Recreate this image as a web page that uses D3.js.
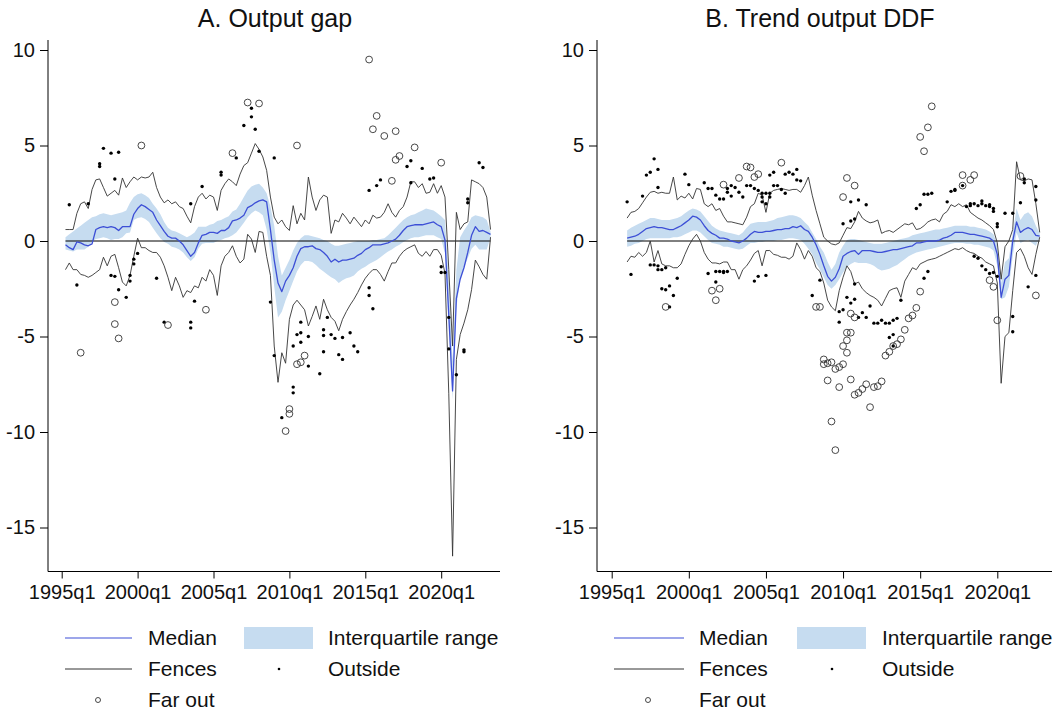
<!DOCTYPE html>
<html>
<head>
<meta charset="utf-8">
<script src="https://cdn.jsdelivr.net/npm/d3@7"></script>
<style>
  body { margin: 0; background: #fff; }
  svg { display: block; font-family: "Liberation Sans", Arial, Helvetica, sans-serif; }
</style>
</head>
<body>
<svg id="chart" width="1057" height="713"></svg>
<script>
// ---------------- Panel A: output gap (quarterly, from 1995q2) ----------------
const gapStart = "1995q2";
const gapMedian = [
  -0.2,-0.35,-0.45,-0.05,-0.1,-0.2,-0.25,-0.15,0.6,0.7,
  0.75,0.7,0.75,0.7,0.55,0.75,0.75,0.75,1.4,1.7,
  1.9,1.8,1.65,1.5,1.1,0.8,0.5,0.25,0.15,0.15,
  0.0,-0.2,-0.5,-0.8,-0.6,-0.1,0.3,0.35,0.45,0.45,
  0.4,0.55,0.55,0.7,1.05,1.1,1.2,1.35,1.75,1.85,
  2.0,2.1,2.15,2.05,0.6,-1.0,-2.2,-2.65,-2.1,-1.8,
  -1.4,-0.8,-0.4,-0.3,-0.3,-0.25,-0.4,-0.45,-0.6,-0.8,
  -1.1,-0.95,-1.1,-1.0,-1.0,-0.95,-0.9,-0.75,-0.65,-0.45,
  -0.35,-0.2,-0.2,-0.2,-0.15,-0.1,0.0,0.1,0.3,0.55,
  0.75,0.8,0.85,0.85,0.85,0.9,0.95,1.0,0.85,0.75,
  0.05,-3.9,-7.85,-3.0,-2.0,-1.4,-0.6,0.3,0.75,0.5,
  0.55,0.45,0.35
];
const gapIqrLow = [
  -0.45,-0.5,-0.55,-0.45,-0.45,-0.45,-0.3,-0.05,0.1,0.15,
  0.2,0.15,0.05,0.1,0.1,0.2,0.4,0.45,1.1,1.2,
  1.25,1.15,1.0,0.7,0.4,0.15,-0.05,-0.15,-0.3,-0.35,
  -0.45,-0.6,-0.85,-1.05,-0.85,-0.4,-0.15,-0.1,-0.1,-0.1,
  0.0,0.05,0.15,0.2,0.3,0.45,0.7,0.95,1.25,1.45,
  1.6,1.5,1.35,0.6,-0.6,-2.4,-4.0,-3.7,-3.1,-2.6,
  -2.1,-1.6,-1.25,-1.05,-1.05,-1.1,-1.25,-1.45,-1.6,-1.75,
  -1.9,-2.0,-2.2,-2.05,-1.95,-1.9,-1.8,-1.6,-1.45,-1.35,
  -1.2,-1.1,-1.0,-0.85,-0.7,-0.55,-0.45,-0.3,-0.2,-0.05,
  0.05,0.15,0.2,0.2,0.25,0.3,0.3,0.3,0.2,0.1,
  -0.65,-4.5,-8.3,-3.5,-2.0,-1.4,-0.9,-0.4,-0.2,-0.45,
  -0.45,-0.45,0.2
];
const gapIqrHigh = [
  0.2,0.35,0.5,0.65,0.8,0.95,1.1,1.25,1.3,1.4,
  1.45,1.4,1.35,1.4,1.45,1.5,1.6,2.0,2.3,2.45,
  2.5,2.4,2.25,1.95,1.7,1.4,1.0,0.7,0.55,0.5,
  0.4,0.3,0.2,0.3,0.45,0.75,0.75,0.75,0.85,0.9,
  1.05,1.1,1.2,1.3,1.55,1.65,1.95,2.3,2.65,2.85,
  2.95,3.0,2.8,2.5,1.8,0.8,-0.8,-1.8,-1.4,-1.0,
  -0.5,-0.1,0.15,0.3,0.3,0.25,0.2,0.15,0.05,0.0,
  -0.15,-0.25,-0.25,-0.2,-0.15,-0.1,-0.05,0.0,0.0,0.0,
  0.0,0.05,0.05,0.1,0.15,0.3,0.5,0.7,0.9,1.1,
  1.25,1.35,1.4,1.5,1.6,1.7,1.65,1.6,1.45,1.3,
  1.1,-2.0,-6.3,-1.5,0.2,0.55,0.85,1.25,1.35,1.3,
  1.25,1.1,0.5
];
const gapFenceHigh = [
  0.6,0.6,0.6,1.45,1.95,2.05,1.7,2.7,3.2,3.25,
  2.8,2.35,2.5,2.65,2.4,3.3,2.8,3.1,3.35,3.2,
  3.35,3.3,3.35,3.6,2.8,2.3,2.0,2.15,1.95,2.05,
  1.8,1.7,1.3,0.95,1.8,2.3,2.5,2.2,2.4,2.3,
  1.6,2.65,3.0,3.25,3.1,2.9,3.5,3.95,4.1,4.6,
  5.1,4.8,4.4,3.7,2.3,1.25,0.9,1.1,0.75,0.55,
  1.85,0.9,1.45,1.1,3.35,2.3,1.6,2.15,2.4,2.3,
  0.4,1.1,1.0,1.45,1.2,0.9,1.25,1.0,0.75,1.1,
  0.9,1.35,1.2,1.25,1.5,1.95,1.5,1.25,1.6,1.8,
  2.3,3.1,3.1,2.8,3.0,2.5,2.55,3.0,2.5,2.9,
  2.3,-1.5,-5.5,1.5,0.6,0.9,1.0,3.2,3.1,3.0,
  2.8,2.3,0.6
];
const gapFenceLow = [
  -1.5,-1.15,-1.5,-1.5,-1.75,-1.8,-1.9,-1.8,-1.65,-1.5,
  -0.85,-1.3,-0.8,-0.7,-1.4,-2.15,-2.35,-1.8,-0.8,0.15,
  -0.35,-0.35,-0.5,-0.6,-0.6,-0.85,-1.3,-1.9,-2.6,-1.9,
  -2.35,-2.95,-2.6,-2.7,-2.35,-2.45,-1.9,-2.1,-1.5,-1.8,
  -2.85,-1.3,-0.8,-0.6,-0.25,-0.8,-1.15,-0.95,0.35,0.1,
  -0.6,0.5,0.45,-0.8,-1.8,-5.5,-7.4,-5.85,-6.4,-4.1,
  -3.35,-3.1,-3.35,-3.6,-4.45,-3.95,-3.4,-4.1,-3.05,-3.6,
  -4.0,-4.2,-4.7,-4.1,-3.7,-3.35,-3.05,-2.7,-2.3,-1.95,
  -1.7,-1.5,-1.5,-1.75,-2.1,-1.6,-1.15,-1.15,-0.8,-0.55,
  -0.4,-0.3,-0.2,-0.65,-0.8,-0.55,-0.8,-0.45,-0.45,-0.75,
  -1.7,-8.0,-16.5,-6.2,-4.9,-4.3,-3.6,-2.55,-1.0,-1.35,
  -1.75,-2.0,0.2
];
const gapOutside = [
  ["1995q3",1.9],["1996q4",1.95],["1997q3",4.05],["1997q3",3.9],["1997q4",4.85],
  ["1998q2",4.6],["1998q3",3.25],["1998q4",4.65],["2003q3",1.95],["2004q2",2.85],
  ["2005q3",3.6],["2005q3",3.45],["2006q3",4.35],["2007q1",6.05],["2007q3",6.5],
  ["2007q3",6.95],["2007q4",5.85],["2008q1",4.7],["2009q1",4.35],["2015q2",2.65],
  ["2015q4",2.9],["2016q1",3.2],["2017q4",3.9],["2018q1",4.2],["2018q1",3.05],
  ["2018q4",3.8],["2019q2",3.25],["2019q3",3.3],["2021q4",2.2],["2021q4",2.0],
  ["2022q3",4.1],["2022q4",3.85],
  ["1996q1",-2.3],["1998q2",-1.8],["1998q3",-1.85],["1998q4",-2.55],["1999q2",-2.95],
  ["1999q3",-1.8],["1999q3",-2.1],["1999q4",-0.95],["1999q4",-1.2],["2000q1",-0.65],
  ["2001q2",-1.95],["2001q4",-4.25],["2003q3",-4.25],["2003q3",-4.55],["2003q4",-3.15],
  ["2008q4",-3.2],["2009q1",-6.0],["2009q3",-9.25],["2010q2",-7.65],["2010q2",-7.95],
  ["2010q2",-5.5],["2010q3",-4.9],["2010q4",-4.8],["2010q4",-4.25],["2010q4",-5.3],
  ["2011q2",-5.0],["2011q2",-6.55],["2012q1",-6.95],["2012q2",-4.65],["2012q2",-4.95],
  ["2012q2",-5.8],["2012q3",-4.0],["2012q4",-4.9],["2013q1",-5.1],["2013q2",-5.95],
  ["2013q3",-6.2],["2013q3",-5.05],["2014q1",-4.8],["2014q2",-5.5],["2014q3",-5.8],
  ["2015q2",-2.45],["2015q2",-2.85],["2015q3",-3.55],["2020q1",-1.35],["2020q1",-1.65],
  ["2020q2",-1.65],["2020q3",-4.0],["2020q3",-5.65],["2021q1",-7.0],["2021q3",-5.7],
  ["2021q3",-5.8]
];
const gapFarOut = [
  ["1996q2",-5.85],["1998q3",-3.2],["1998q3",-4.35],["1998q4",-5.1],["2000q2",5.0],
  ["2002q1",-4.4],["2004q3",-3.6],["2006q2",4.6],["2007q2",7.25],["2008q1",7.2],
  ["2009q4",-9.95],["2010q1",-8.8],["2010q1",-9.05],["2010q3",-6.45],["2010q3",5.0],
  ["2010q4",-6.35],["2011q1",-6.0],["2015q2",9.5],["2015q3",5.85],["2015q4",6.55],
  ["2016q2",5.5],["2016q4",3.15],["2017q1",5.75],["2017q1",4.25],["2017q2",4.45],
  ["2018q2",4.9],["2020q1",4.1]
];

// ---------------- Panel B: trend output DDF (quarterly, from 1996q1) ----------------
const ddfStart = "1996q1";
const ddfMedian = [
  0.15,0.2,0.25,0.35,0.5,0.65,0.7,0.75,0.7,0.7,
  0.65,0.6,0.6,0.7,0.8,0.95,1.1,1.3,1.25,1.1,
  0.8,0.55,0.4,0.3,0.15,0.15,0.1,0.0,-0.05,-0.1,
  0.0,0.15,0.35,0.5,0.45,0.45,0.5,0.5,0.55,0.6,
  0.6,0.65,0.65,0.75,0.7,0.8,0.6,0.5,0.2,-0.2,
  -0.7,-1.3,-1.85,-2.1,-1.9,-1.45,-0.8,-0.65,-0.55,-0.5,
  -0.7,-0.5,-0.5,-0.5,-0.55,-0.6,-0.6,-0.55,-0.5,-0.45,
  -0.45,-0.4,-0.35,-0.3,-0.25,-0.1,-0.1,-0.05,0.0,0.0,
  0.0,0.05,0.15,0.2,0.3,0.45,0.45,0.45,0.4,0.35,
  0.35,0.3,0.25,0.2,0.15,0.0,-0.7,-2.95,-2.0,-1.8,
  0.0,1.0,0.45,0.6,0.7,0.6,0.3,0.25
];
const ddfIqrLow = [
  -0.3,-0.25,-0.15,-0.1,0.0,0.1,0.15,0.15,0.15,0.15,
  0.15,0.15,0.2,0.2,0.25,0.35,0.45,0.55,0.55,0.45,
  0.25,0.05,-0.1,-0.15,-0.2,-0.3,-0.3,-0.35,-0.4,-0.45,
  -0.4,-0.25,-0.1,-0.1,-0.05,-0.05,0.0,0.0,0.0,0.05,
  0.05,0.1,0.15,0.15,0.1,0.05,-0.15,-0.4,-0.7,-1.15,
  -1.5,-1.9,-2.3,-2.5,-2.3,-2.0,-1.65,-1.35,-1.2,-1.1,
  -1.15,-1.15,-1.15,-1.2,-1.3,-1.45,-1.55,-1.5,-1.45,-1.35,
  -1.25,-1.1,-0.95,-0.8,-0.7,-0.6,-0.55,-0.5,-0.45,-0.4,
  -0.35,-0.3,-0.25,-0.2,-0.15,-0.1,-0.1,-0.1,-0.15,-0.15,
  -0.2,-0.2,-0.25,-0.3,-0.35,-0.5,-1.3,-3.05,-2.95,-2.4,
  -0.8,0.45,-0.1,0.0,0.05,-0.1,-0.25,0.2
];
const ddfIqrHigh = [
  0.55,0.7,0.8,0.9,1.0,1.1,1.2,1.2,1.15,1.1,
  1.1,1.1,1.15,1.2,1.3,1.45,1.6,1.7,1.65,1.55,
  1.3,1.05,0.8,0.65,0.55,0.5,0.45,0.4,0.35,0.3,
  0.45,0.7,0.9,0.95,1.0,1.0,1.0,1.05,1.1,1.2,
  1.25,1.3,1.35,1.35,1.3,1.2,1.0,0.8,0.45,0.1,
  -0.3,-0.6,-1.1,-1.5,-1.2,-0.6,-0.25,0.05,0.1,0.1,
  0.05,0.0,-0.05,-0.1,-0.15,-0.15,-0.15,-0.1,-0.05,0.0,
  0.05,0.1,0.15,0.2,0.3,0.35,0.4,0.45,0.5,0.55,
  0.6,0.6,0.65,0.7,0.75,0.8,0.8,0.8,0.8,0.75,
  0.75,0.7,0.65,0.6,0.5,0.35,-0.2,-2.2,-1.1,-0.9,
  0.4,1.7,1.1,1.4,1.5,1.3,0.8,0.4
];
const ddfFenceHigh = [
  1.2,1.5,1.55,1.7,2.0,2.3,2.55,2.6,2.5,2.55,
  2.5,2.5,3.35,2.15,2.35,2.25,2.5,2.2,2.75,2.7,
  1.95,1.8,1.95,1.6,1.7,1.3,1.0,1.0,0.95,0.9,
  0.85,1.25,1.8,1.95,2.5,2.4,1.5,2.5,2.65,2.7,
  2.75,2.7,2.65,2.7,2.7,2.55,2.9,3.35,2.4,1.6,
  0.9,0.2,0.0,-0.15,-0.2,-0.1,0.3,0.7,0.65,1.0,
  1.55,1.2,1.05,0.95,1.0,1.1,0.4,0.5,0.55,0.45,
  0.6,0.75,0.9,0.85,0.95,0.6,0.65,0.8,1.0,1.1,
  1.15,1.0,1.4,1.55,1.9,1.8,1.95,1.8,1.9,1.5,
  1.35,1.2,1.1,0.95,0.8,0.6,-0.1,-2.0,-0.3,0.0,
  0.6,4.15,3.2,3.15,3.25,3.2,1.95,0.45
];
const ddfFenceLow = [
  -1.1,-0.8,-0.85,-0.6,-0.8,-0.6,0.0,-1.1,-0.5,-1.2,
  -1.3,-1.3,-1.4,-1.4,-1.2,-0.7,-0.25,0.1,0.35,0.0,
  -0.6,-0.95,-1.15,-1.15,-1.2,-1.1,-1.1,-1.5,-1.5,-2.0,
  -1.5,-1.3,-1.0,-0.65,-0.5,-1.3,-0.5,-0.5,-0.7,-0.75,
  -0.85,-0.85,-0.95,-0.8,-0.1,-0.45,-0.95,-0.5,-0.8,-1.4,
  -1.6,-2.2,-3.1,-3.45,-3.65,-2.6,-1.9,-1.3,-1.6,-2.25,
  -2.15,-2.5,-2.7,-2.85,-2.95,-3.1,-3.4,-3.0,-2.6,-2.5,
  -2.45,-2.95,-2.1,-1.75,-1.4,-1.5,-1.2,-1.1,-1.0,-0.95,
  -0.9,-0.8,-0.7,-0.6,-0.5,-0.4,-0.45,-0.35,-0.5,-0.6,
  -0.65,-0.8,-0.9,-1.1,-1.2,-1.3,-2.2,-7.45,-5.0,-4.8,
  -2.6,-0.6,-0.4,-0.8,-1.4,-1.75,-0.7,0.2
];
const ddfOutside = [
  ["1996q1",2.05],["1997q1",2.35],["1997q2",3.45],["1997q3",3.6],["1997q4",4.3],
  ["1998q1",3.75],["1998q1",2.8],["1999q4",3.5],["2000q1",2.95],["2001q1",3.05],
  ["2001q2",2.75],["2001q3",2.75],["2001q4",2.4],["2002q1",2.2],["2002q2",2.2],
  ["2002q3",2.75],["2002q3",2.55],["2002q4",2.35],["2002q4",2.9],["2003q1",2.8],
  ["2003q2",2.55],["2003q3",2.3],["2003q4",2.9],["2004q1",2.9],["2004q2",2.75],
  ["2004q3",2.65],["2004q4",2.05],["2004q4",2.3],["2004q4",2.5],["2005q1",1.95],
  ["2005q1",2.5],["2005q2",2.3],["2005q2",3.45],["2005q2",2.5],["2005q3",3.6],
  ["2005q3",2.9],["2005q4",2.9],["2006q1",2.7],["2006q2",2.5],["2006q2",3.5],
  ["2006q3",3.6],["2006q4",3.5],["2007q1",3.2],["2007q1",3.75],["2007q2",3.15],
  ["2010q1",0.9],["2010q3",2.05],["2010q3",1.05],["2010q4",1.15],["2011q1",2.15],
  ["2011q3",1.9],["2014q4",1.7],["2015q1",1.9],["2015q2",2.45],["2015q3",2.45],
  ["2015q4",2.5],["2016q4",2.05],["2017q1",2.6],["2017q2",2.65],["2017q2",2.7],
  ["2017q4",2.9],["2018q1",1.8],["2018q2",1.95],["2018q2",1.85],["2018q3",1.95],
  ["2018q4",1.85],["2019q1",2.1],["2019q1",1.95],["2019q2",1.85],["2019q3",1.9],
  ["2019q3",1.8],["2019q4",1.7],["2019q4",1.55],["2020q1",0.9],["2020q1",0.75],
  ["2020q3",1.45],["2021q1",1.45],["2021q3",2.0],["2021q4",3.25],["2021q4",3.05],
  ["2022q3",2.85],["2022q3",2.15],
  ["1996q2",-1.75],["1997q3",-1.25],["1997q4",-1.25],["1998q1",-1.3],["1998q1",-1.5],
  ["1998q2",-1.5],["1998q2",-2.5],["1998q3",-1.4],["1998q3",-2.55],["1998q4",-2.35],
  ["1998q4",-3.45],["1999q1",-2.85],["1999q2",-1.95],["2001q2",-1.7],["2001q4",-2.15],
  ["2001q4",-1.6],["2002q1",-1.6],["2002q2",-1.6],["2002q2",-1.65],["2002q3",-1.6],
  ["2004q2",-2.1],["2004q3",-1.85],["2005q1",-1.8],["2008q1",-2.85],["2008q3",-2.05],
  ["2009q4",-4.25],["2009q4",-3.7],["2010q1",-3.6],["2010q2",-2.95],["2010q3",-3.25],
  ["2010q4",-3.05],["2010q4",-2.25],["2011q1",-4.0],["2011q2",-3.75],["2011q3",-4.0],
  ["2011q4",-3.4],["2012q1",-4.3],["2012q2",-4.3],["2012q3",-4.15],["2012q4",-4.3],
  ["2013q1",-4.3],["2013q1",-5.05],["2013q2",-4.15],["2013q2",-4.9],["2013q2",-5.5],
  ["2013q3",-4.05],["2013q4",-3.1],["2015q2",-1.95],["2015q3",-1.6],["2018q3",-0.8],
  ["2018q4",-0.9],["2019q1",-1.3],["2019q2",-1.5],["2019q3",-1.7],["2019q4",-1.65],
  ["2020q1",-1.85],["2021q1",-3.95],["2021q1",-4.75],["2022q1",-2.4],["2022q3",-1.8]
];
const ddfFarOut = [
  ["2002q2",2.95],["2003q2",3.3],["2003q4",3.9],["2004q1",3.85],["2004q2",3.35],
  ["2004q3",3.5],["2006q1",4.1],["2010q1",2.3],["2010q2",3.3],["2010q4",2.9],
  ["2015q1",5.45],["2015q2",4.7],["2015q3",5.95],["2015q4",7.05],["2017q4",3.45],
  ["2017q4",2.9],["2018q2",3.2],["2018q3",3.45],["2021q3",3.4],
  ["1998q3",-3.45],["2001q3",-2.6],["2001q4",-3.1],["2002q1",-2.5],["2008q2",-3.45],
  ["2008q3",-3.45],["2010q2",-4.8],["2010q2",-5.2],["2010q2",-5.85],["2010q1",-5.5],
  ["2010q3",-3.8],["2010q3",-4.8],["2010q3",-7.25],["2010q4",-4.0],["2010q4",-8.05],
  ["2008q4",-6.2],["2008q4",-6.45],["2009q1",-6.4],["2009q1",-7.3],["2009q2",-6.35],
  ["2009q2",-9.45],["2009q3",-6.7],["2009q3",-10.95],["2009q4",-6.6],["2009q4",-7.65],
  ["2010q1",-6.45],["2011q1",-7.95],["2011q2",-7.75],["2011q3",-7.5],["2011q4",-8.7],
  ["2012q1",-7.65],["2012q2",-7.6],["2012q3",-7.35],["2012q4",-6.0],["2013q1",-5.8],
  ["2013q2",-5.5],["2013q3",-5.4],["2013q4",-5.15],["2014q1",-4.65],["2014q2",-4.05],
  ["2014q3",-3.9],["2014q4",-3.5],["2015q1",-2.65],["2019q3",-2.05],["2019q4",-2.4],
  ["2020q1",-4.15],["2022q3",-2.85]
];

// Axis ticks shared by both panels
const yTicks = [-15, -10, -5, 0, 5, 10];
const xTickLabels = ["1995q1", "2000q1", "2005q1", "2010q1", "2015q1", "2020q1"];
const legendItems = ["Median", "Interquartile range", "Fences", "Outside", "Far out"];

// ---------------- helpers ----------------
function qIndex(label) {
  const parts = label.split("q");
  return (+parts[0] - 1995) * 4 + (+parts[1] - 1);
}

const COLORS = {
  median: "#3d4fd6",
  band: "#c6dcf0",
  fence: "#333333",
  zero: "#000",
  axis: "#000",
  text: "#111"
};

const svg = d3.select("#chart");

function drawPanel(cfg) {
  const g = svg.append("g");

  // x: quarter index since 1995q1 ; y: percentage points
  const x = d3.scaleLinear().domain([0, 100]).range([cfg.x1995, cfg.x2020]);
  const y = d3.scaleLinear().domain([0, 10]).range([241, 50]);

  const s0 = qIndex(cfg.start);
  const rows = cfg.median.map((m, i) => ({
    q: s0 + i, med: m,
    lo: cfg.iqrLow[i], hi: cfg.iqrHigh[i],
    fl: cfg.fenceLow[i], fh: cfg.fenceHigh[i]
  }));
  const qLast = s0 + rows.length - 1;

  // interquartile band
  g.append("path").datum(rows)
    .attr("fill", COLORS.band)
    .attr("d", d3.area().x(d => x(d.q)).y0(d => y(d.lo)).y1(d => y(d.hi)));

  // zero reference line
  g.append("line")
    .attr("x1", x(s0)).attr("x2", x(qLast))
    .attr("y1", y(0)).attr("y2", y(0))
    .attr("stroke", COLORS.zero).attr("stroke-width", 1);

  // fences
  const fenceLine = key => d3.line().x(d => x(d.q)).y(d => y(d[key]));
  ["fh", "fl"].forEach(k => {
    g.append("path").datum(rows)
      .attr("fill", "none").attr("stroke", COLORS.fence)
      .attr("stroke-width", 0.9).attr("stroke-linejoin", "round")
      .attr("d", fenceLine(k));
  });

  // median
  g.append("path").datum(rows)
    .attr("fill", "none").attr("stroke", COLORS.median)
    .attr("stroke-width", 1.3).attr("stroke-linejoin", "round")
    .attr("d", d3.line().x(d => x(d.q)).y(d => y(d.med)));

  // outside values
  g.append("g").selectAll("circle").data(cfg.outside).join("circle")
    .attr("cx", d => x(qIndex(d[0]))).attr("cy", d => y(d[1]))
    .attr("r", 1.7).attr("fill", "#000");

  // far-out values
  g.append("g").selectAll("circle").data(cfg.farOut).join("circle")
    .attr("cx", d => x(qIndex(d[0]))).attr("cy", d => y(d[1]))
    .attr("r", 3.4).attr("fill", "none")
    .attr("stroke", "#333").attr("stroke-width", 0.9);

  // y axis (plain hyphen-minus labels)
  const yAxis = d3.axisLeft(y).tickValues(yTicks).tickSize(8).tickPadding(5)
    .tickFormat(d => String(d));
  const ya = g.append("g").attr("transform", `translate(${cfg.axisX},0)`).call(yAxis);
  ya.select(".domain").remove();
  ya.selectAll("text").attr("font-size", 20).attr("fill", COLORS.text)
    .attr("font-family", "'Liberation Sans', Arial, sans-serif");
  g.append("line").attr("x1", cfg.axisX).attr("x2", cfg.axisX)
    .attr("y1", 40).attr("y2", 571.5).attr("stroke", COLORS.axis);

  // x axis
  const xAxis = d3.axisBottom(x).tickValues(xTickLabels.map(qIndex))
    .tickSize(7).tickPadding(6)
    .tickFormat((d, i) => xTickLabels[i]);
  const xa = g.append("g").attr("transform", "translate(0,571.5)").call(xAxis);
  xa.select(".domain").remove();
  xa.selectAll("text").attr("font-size", 20).attr("fill", COLORS.text)
    .attr("font-family", "'Liberation Sans', Arial, sans-serif");
  g.append("line").attr("x1", cfg.axisX).attr("x2", cfg.axisEnd)
    .attr("y1", 571.5).attr("y2", 571.5).attr("stroke", COLORS.axis);

  // title
  g.append("text").attr("x", cfg.titleX).attr("y", 27)
    .attr("text-anchor", "middle").attr("font-size", 25).attr("fill", COLORS.text)
    .text(cfg.title);

  // legend
  const L = cfg.legend;
  const rowY = [638, 669, 700];
  const lg = g.append("g").attr("font-size", 21).attr("fill", COLORS.text);
  lg.append("line").attr("x1", L.lineX0).attr("x2", L.lineX1)
    .attr("y1", rowY[0]).attr("y2", rowY[0]).attr("stroke", COLORS.median).attr("stroke-width", 1.1);
  lg.append("text").attr("x", L.textX).attr("y", rowY[0]).attr("dy", "0.35em").text(legendItems[0]);
  lg.append("rect").attr("x", L.swX0).attr("y", rowY[0] - 11)
    .attr("width", L.swX1 - L.swX0).attr("height", 22).attr("fill", COLORS.band);
  lg.append("text").attr("x", L.text2X).attr("y", rowY[0]).attr("dy", "0.35em").text(legendItems[1]);
  lg.append("line").attr("x1", L.lineX0).attr("x2", L.lineX1)
    .attr("y1", rowY[1]).attr("y2", rowY[1]).attr("stroke", COLORS.fence).attr("stroke-width", 1);
  lg.append("text").attr("x", L.textX).attr("y", rowY[1]).attr("dy", "0.35em").text(legendItems[2]);
  lg.append("circle").attr("cx", L.dotX).attr("cy", rowY[1]).attr("r", 1.3).attr("fill", "#000");
  lg.append("text").attr("x", L.text2X).attr("y", rowY[1]).attr("dy", "0.35em").text(legendItems[3]);
  lg.append("circle").attr("cx", L.circX).attr("cy", rowY[2]).attr("r", 2.5)
    .attr("fill", "none").attr("stroke", "#333").attr("stroke-width", 0.9);
  lg.append("text").attr("x", L.textX).attr("y", rowY[2]).attr("dy", "0.35em").text(legendItems[4]);
}

drawPanel({
  title: "A. Output gap", titleX: 275,
  start: gapStart, median: gapMedian, iqrLow: gapIqrLow, iqrHigh: gapIqrHigh,
  fenceLow: gapFenceLow, fenceHigh: gapFenceHigh,
  outside: gapOutside, farOut: gapFarOut,
  x1995: 61.7, x2020: 441.2, axisX: 48, axisEnd: 500,
  legend: { lineX0: 65, lineX1: 132, textX: 148, swX0: 244, swX1: 313, text2X: 328, dotX: 279, circX: 98 }
});

drawPanel({
  title: "B. Trend output DDF", titleX: 820,
  start: ddfStart, median: ddfMedian, iqrLow: ddfIqrLow, iqrHigh: ddfIqrHigh,
  fenceLow: ddfFenceLow, fenceHigh: ddfFenceHigh,
  outside: ddfOutside, farOut: ddfFarOut,
  x1995: 611.7, x2020: 997.3, axisX: 597, axisEnd: 1052,
  legend: { lineX0: 614, lineX1: 684, textX: 699, swX0: 797, swX1: 866, text2X: 882, dotX: 832, circX: 648 }
});
</script>
</body>
</html>
